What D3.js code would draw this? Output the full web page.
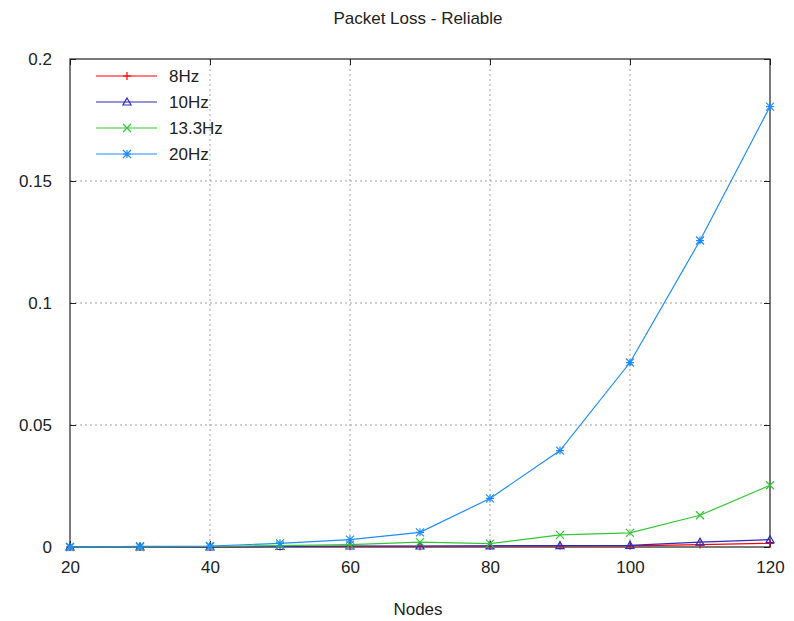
<!DOCTYPE html>
<html>
<head>
<meta charset="utf-8">
<script src="https://cdn.jsdelivr.net/npm/d3@7"></script>
<style>
  body { margin: 0; background: #fff; }
  svg text { font-family: "Liberation Sans", Arial, sans-serif; fill: #222; }
</style>
</head>
<body>
<div id="chart"></div>
<script>
var nodes = [20, 30, 40, 50, 60, 70, 80, 90, 100, 110, 120];
var hz8 = [0, 0, 0, 0.0002, 0.0003, 0.0003, 0.0004, 0.0005, 0.0005, 0.001, 0.0015];
var hz10 = [0, 0, 0, 0.0002, 0.0004, 0.0004, 0.0005, 0.0006, 0.0007, 0.002, 0.003];
var hz13 = [0, 0, 0.0002, 0.0006, 0.001, 0.002, 0.0014, 0.005, 0.0058, 0.013, 0.0253];
var hz20 = [0, 0.0003, 0.0004, 0.0015, 0.003, 0.006, 0.0199, 0.0395, 0.0756, 0.1256, 0.1805];
var xTicks = [20, 40, 60, 80, 100, 120];
var yTicks = [0, 0.05, 0.1, 0.15, 0.2];

var series = [
  { name: '8Hz', values: hz8, color: '#ff0000', marker: 'plus' },
  { name: '10Hz', values: hz10, color: '#2b2bbf', marker: 'triangle' },
  { name: '13.3Hz', values: hz13, color: '#33c733', marker: 'cross' },
  { name: '20Hz', values: hz20, color: '#1e8cff', marker: 'star' }
];

var width = 794, height = 621;
var plotLeft = 70, plotRight = 770, plotTop = 59, plotBottom = 547;

var x = d3.scaleLinear().domain([20, 120]).range([plotLeft, plotRight]);
var y = d3.scaleLinear().domain([0, 0.2]).range([plotBottom, plotTop]);

var svg = d3.select('#chart').append('svg')
  .attr('width', width)
  .attr('height', height);

// grid
svg.append('g').selectAll('line')
  .data(xTicks.slice(1, -1))
  .enter().append('line')
  .attr('x1', function (d) { return x(d); })
  .attr('x2', function (d) { return x(d); })
  .attr('y1', plotTop).attr('y2', plotBottom)
  .attr('stroke', '#a0a0a0').attr('stroke-dasharray', '2,3');

svg.append('g').selectAll('line')
  .data(yTicks.slice(1, -1))
  .enter().append('line')
  .attr('y1', function (d) { return y(d); })
  .attr('y2', function (d) { return y(d); })
  .attr('x1', plotLeft).attr('x2', plotRight)
  .attr('stroke', '#a0a0a0').attr('stroke-dasharray', '2,3');

// axes with inward ticks, mirrored on top and right
var xAxis = d3.axisBottom(x).tickValues(xTicks).tickSizeInner(-6).tickSizeOuter(0).tickPadding(14);
var yAxis = d3.axisLeft(y).tickValues(yTicks).tickSizeInner(-6).tickSizeOuter(0).tickPadding(18)
  .tickFormat(function (d) { return d === 0 ? '0' : String(d); });

var gx = svg.append('g').attr('transform', 'translate(0,' + plotBottom + ')').call(xAxis);
var gy = svg.append('g').attr('transform', 'translate(' + plotLeft + ',0)').call(yAxis);
var gx2 = svg.append('g').attr('transform', 'translate(0,' + plotTop + ')')
  .call(d3.axisTop(x).tickValues(xTicks).tickSizeInner(-6).tickSizeOuter(0).tickFormat(''));
var gy2 = svg.append('g').attr('transform', 'translate(' + plotRight + ',0)')
  .call(d3.axisRight(y).tickValues(yTicks).tickSizeInner(-6).tickSizeOuter(0).tickFormat(''));

[gx, gy, gx2, gy2].forEach(function (g) {
  g.select('.domain').remove();
  g.selectAll('line').attr('stroke', '#222');
  g.selectAll('text').attr('font-size', 17).attr('fill', '#222')
    .attr('font-family', '"Liberation Sans", Arial, sans-serif');
});

svg.append('rect')
  .attr('x', plotLeft).attr('y', plotTop)
  .attr('width', plotRight - plotLeft).attr('height', plotBottom - plotTop)
  .attr('fill', 'none').attr('stroke', '#222').attr('stroke-width', 1.2);

function marker(g, type, color) {
  var s = 4;
  if (type === 'plus') {
    g.append('path').attr('d', 'M' + -s + ',0H' + s + 'M0,' + -s + 'V' + s);
  } else if (type === 'triangle') {
    g.append('path').attr('d', 'M0,' + (-s) + 'L' + s + ',' + (s - 1) + 'H' + (-s) + 'Z');
  } else if (type === 'cross') {
    g.append('path').attr('d', 'M' + -s + ',' + -s + 'L' + s + ',' + s + 'M' + -s + ',' + s + 'L' + s + ',' + -s);
  } else {
    g.append('path').attr('d', 'M' + -s + ',0H' + s + 'M0,' + -s + 'V' + s +
      'M' + -s + ',' + -s + 'L' + s + ',' + s + 'M' + -s + ',' + s + 'L' + s + ',' + -s);
  }
  g.selectAll('path').attr('fill', 'none').attr('stroke', color).attr('stroke-width', 1.2);
}

var line = d3.line()
  .x(function (d, i) { return x(nodes[i]); })
  .y(function (d) { return y(d); });

series.forEach(function (s) {
  svg.append('path')
    .datum(s.values)
    .attr('d', line)
    .attr('fill', 'none')
    .attr('stroke', s.color)
    .attr('stroke-width', 1.2);

  svg.append('g').selectAll('g')
    .data(s.values)
    .enter().append('g')
    .attr('transform', function (d, i) { return 'translate(' + x(nodes[i]) + ',' + y(d) + ')'; })
    .each(function () { marker(d3.select(this), s.marker, s.color); });
});

// legend
var legend = svg.append('g');
series.forEach(function (s, i) {
  var ly = 76 + i * 26;
  legend.append('line')
    .attr('x1', 96).attr('x2', 157)
    .attr('y1', ly).attr('y2', ly)
    .attr('stroke', s.color).attr('stroke-width', 1.2);
  marker(legend.append('g').attr('transform', 'translate(127,' + ly + ')'), s.marker, s.color);
  legend.append('text')
    .attr('x', 169).attr('y', ly).attr('dy', '0.35em')
    .attr('font-size', 17)
    .text(s.name);
});

svg.append('text')
  .attr('x', 418).attr('y', 18).attr('dy', '0.35em')
  .attr('text-anchor', 'middle')
  .attr('font-size', 17)
  .text('Packet Loss - Reliable');

svg.append('text')
  .attr('x', 418).attr('y', 609).attr('dy', '0.35em')
  .attr('text-anchor', 'middle')
  .attr('font-size', 17)
  .text('Nodes');
</script>
</body>
</html>
